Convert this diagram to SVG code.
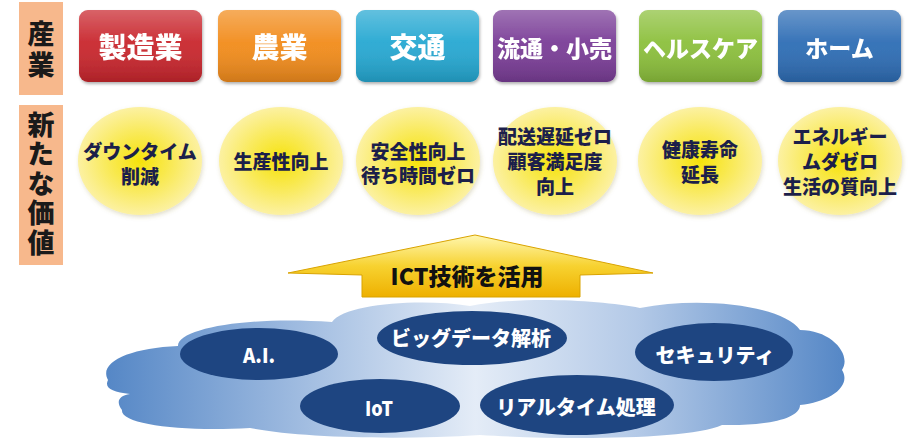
<svg xmlns="http://www.w3.org/2000/svg" width="915" height="438" viewBox="0 0 915 438">
<defs>
<style>
.jp{font-family:"Noto Sans CJK JP","Noto Sans",sans-serif;font-weight:900}
.side{fill:#f7b88c}
.sidet{font-size:27px;fill:#1a1a1a;writing-mode:tb;glyph-orientation-vertical:0}
.boxt{fill:#ffffff;text-anchor:middle}
.valt{font-size:19px;fill:#1c1f4a;text-anchor:middle}
.tech{fill:#1e4581}
.techt{font-size:20px;fill:#ffffff;text-anchor:middle}
.circ{fill:url(#yel)}
</style>
<linearGradient id="gloss" x1="0" y1="0" x2="0" y2="1">
<stop offset="0" stop-color="#ffffff" stop-opacity="0.28"/>
<stop offset="0.45" stop-color="#ffffff" stop-opacity="0.05"/>
<stop offset="1" stop-color="#000000" stop-opacity="0.15"/>
</linearGradient>
<radialGradient id="yel" cx="0.5" cy="0.5" r="0.5">
<stop offset="0" stop-color="#f6e20a"/>
<stop offset="0.55" stop-color="#f9ea5c"/>
<stop offset="1" stop-color="#fcf1a2"/>
</radialGradient>
<linearGradient id="arrowg" x1="0" y1="0" x2="0" y2="1">
<stop offset="0" stop-color="#fff7b0"/>
<stop offset="0.5" stop-color="#f7d230"/>
<stop offset="1" stop-color="#eeb000"/>
</linearGradient>
<linearGradient id="cloudg" x1="0" y1="0" x2="1" y2="0">
<stop offset="0" stop-color="#5587c6"/>
<stop offset="0.25" stop-color="#9cb9df"/>
<stop offset="0.5" stop-color="#e4ecf7"/>
<stop offset="0.72" stop-color="#b3c9e7"/>
<stop offset="1" stop-color="#5587c6"/>
</linearGradient>
<filter id="sh" x="-10%" y="-10%" width="120%" height="130%">
<feDropShadow dx="1" dy="2" stdDeviation="1.5" flood-color="#000000" flood-opacity="0.3"/>
</filter>
<filter id="shs" x="-10%" y="-10%" width="120%" height="130%">
<feDropShadow dx="1" dy="2" stdDeviation="2" flood-color="#8a7a30" flood-opacity="0.25"/>
</filter>
</defs>
<rect width="915" height="438" fill="#ffffff"/>

<g id="label-sangyo">
<rect class="side" x="19" y="2" width="44" height="93"/>
<text class="jp sidet" x="41" y="20" letter-spacing="4">産業</text>
</g>
<g id="label-kachi">
<rect class="side" x="19" y="105" width="44" height="160"/>
<text class="jp sidet" x="41" y="111" letter-spacing="2.5">新たな価値</text>
</g>

<g id="ind-seizo" filter="url(#sh)">
<rect x="79" y="10" width="123" height="72" rx="9" fill="#c9262d"/>
<rect x="79" y="10" width="123" height="72" rx="9" fill="url(#gloss)"/>
<text class="jp boxt" x="140.5" y="58" font-size="28">製造業</text>
</g>
<g id="ind-nogyo" filter="url(#sh)">
<rect x="218" y="10" width="123" height="72" rx="9" fill="#f28c1c"/>
<rect x="218" y="10" width="123" height="72" rx="9" fill="url(#gloss)"/>
<text class="jp boxt" x="279.5" y="58" font-size="28">農業</text>
</g>
<g id="ind-kotsu" filter="url(#sh)">
<rect x="356" y="10" width="123" height="72" rx="9" fill="#25a8d2"/>
<rect x="356" y="10" width="123" height="72" rx="9" fill="url(#gloss)"/>
<text class="jp boxt" x="417.5" y="58" font-size="28">交通</text>
</g>
<g id="ind-ryutsu" filter="url(#sh)">
<rect x="493" y="10" width="123" height="72" rx="9" fill="#7a3d97"/>
<rect x="493" y="10" width="123" height="72" rx="9" fill="url(#gloss)"/>
<text class="jp boxt" x="554.5" y="57" font-size="23">流通・小売</text>
</g>
<g id="ind-health" filter="url(#sh)">
<rect x="639" y="10" width="123" height="72" rx="9" fill="#8cc03c"/>
<rect x="639" y="10" width="123" height="72" rx="9" fill="url(#gloss)"/>
<text class="jp boxt" x="700.5" y="57" font-size="23">ヘルスケア</text>
</g>
<g id="ind-home" filter="url(#sh)">
<rect x="778" y="10" width="123" height="72" rx="9" fill="#2e6db5"/>
<rect x="778" y="10" width="123" height="72" rx="9" fill="url(#gloss)"/>
<text class="jp boxt" x="839.5" y="57" font-size="23">ホーム</text>
</g>

<g id="val-downtime">
<ellipse class="circ" cx="140" cy="161" rx="62" ry="54" filter="url(#shs)"/>
<text class="jp valt" x="140" y="158.5" font-size="18">ダウンタイム</text>
<text class="jp valt" x="140" y="183.5">削減</text>
</g>
<g id="val-seisansei">
<ellipse class="circ" cx="281" cy="161" rx="62" ry="54" filter="url(#shs)"/>
<text class="jp valt" x="281" y="169">生産性向上</text>
</g>
<g id="val-anzen">
<ellipse class="circ" cx="418" cy="161" rx="62" ry="54" filter="url(#shs)"/>
<text class="jp valt" x="418" y="158.5">安全性向上</text>
<text class="jp valt" x="418" y="183">待ち時間ゼロ</text>
</g>
<g id="val-haiso">
<ellipse class="circ" cx="555" cy="161" rx="62" ry="54" filter="url(#shs)"/>
<text class="jp valt" x="555" y="143.5">配送遅延ゼロ</text>
<text class="jp valt" x="555" y="168.5">顧客満足度</text>
<text class="jp valt" x="555" y="193.5">向上</text>
</g>
<g id="val-kenko">
<ellipse class="circ" cx="700" cy="161" rx="62" ry="54" filter="url(#shs)"/>
<text class="jp valt" x="700" y="157">健康寿命</text>
<text class="jp valt" x="700" y="182">延長</text>
</g>
<g id="val-energy">
<ellipse class="circ" cx="840" cy="161" rx="62" ry="54" filter="url(#shs)"/>
<text class="jp valt" x="840" y="143.5">エネルギー</text>
<text class="jp valt" x="840" y="168.5">ムダゼロ</text>
<text class="jp valt" x="840" y="193.5">生活の質向上</text>
</g>

<g id="arrow-ict">
<polygon points="475,235 653,273 580,275 580,297 362,297 362,275 288,273" fill="url(#arrowg)" stroke="#d9a300" stroke-width="1"/>
<text class="jp" x="467" y="285" font-size="23" fill="#111111" text-anchor="middle">ICT技術を活用</text>
</g>

<g id="cloud">
<path d="M 108 380 C 98 362 130 348 178 346 C 178 328 250 316 332 322 C 344 304 420 298 470 306 C 520 296 600 300 640 308 C 700 296 782 305 800 330 C 832 330 852 355 842 370 C 852 386 830 402 800 405 C 800 420 762 426 722 425 C 690 440 560 440 480 435 C 400 440 300 438 250 428 C 180 432 120 424 122 410 C 116 402 118 396 130 394 C 112 392 104 388 108 380 Z" fill="url(#cloudg)"/>
</g>

<g id="tech-ai">
<ellipse class="tech" cx="259" cy="354" rx="79" ry="26"/>
<text class="jp techt" x="259" y="363" textLength="32" lengthAdjust="spacingAndGlyphs">A.I.</text>
</g>
<g id="tech-bigdata">
<ellipse class="tech" cx="472" cy="338" rx="95" ry="27"/>
<text class="jp techt" x="471" y="345.5">ビッグデータ解析</text>
</g>
<g id="tech-security">
<ellipse class="tech" cx="714" cy="352" rx="79" ry="29"/>
<text class="jp techt" x="715" y="363" font-size="18">セキュリティ</text>
</g>
<g id="tech-iot">
<ellipse class="tech" cx="380" cy="406" rx="80" ry="27"/>
<text class="jp techt" x="379" y="416" textLength="28" lengthAdjust="spacingAndGlyphs">IoT</text>
</g>
<g id="tech-realtime">
<ellipse class="tech" cx="577" cy="405" rx="97" ry="30"/>
<text class="jp techt" x="576" y="414.5">リアルタイム処理</text>
</g>
<g id="connectors"/>
</svg>
